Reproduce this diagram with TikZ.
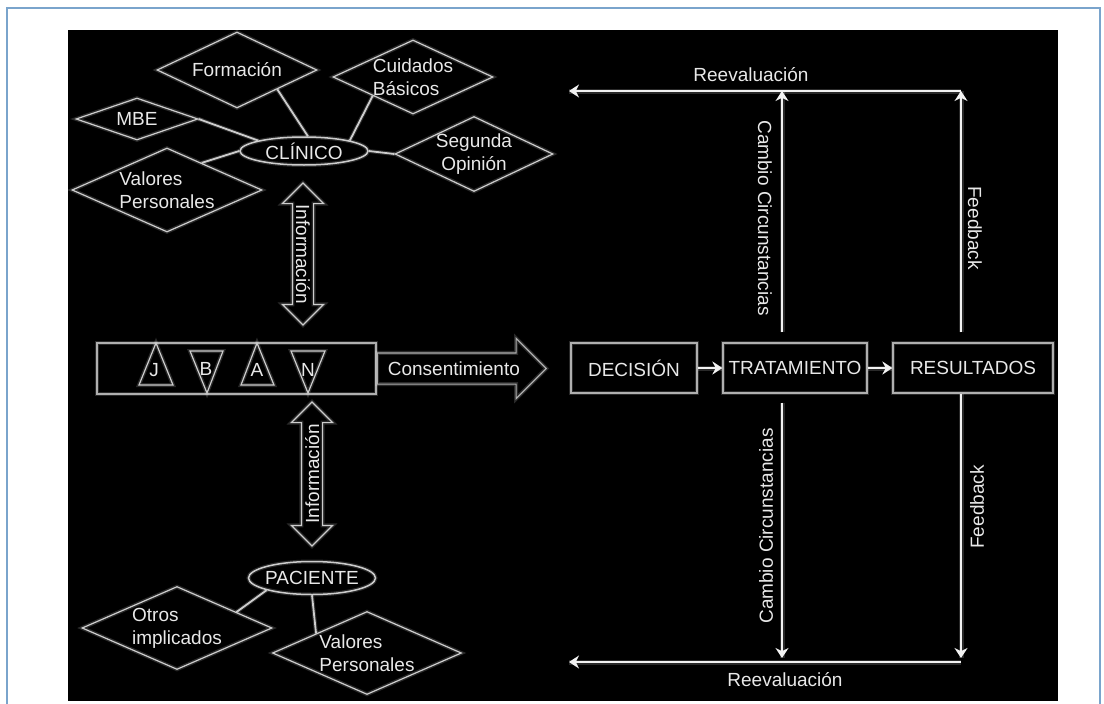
\documentclass[tikz,border=0pt]{standalone}
\usepackage{fontspec}
\setmainfont{Liberation Sans}
\usetikzlibrary{shapes.geometric,shapes.arrows,arrows.meta,calc}
\definecolor{framec}{RGB}{122,164,204}
\definecolor{txtc}{RGB}{232,232,232}
\definecolor{edgec}{RGB}{205,205,205}
\definecolor{boxc}{RGB}{175,175,175}
\definecolor{arrc}{RGB}{242,242,242}
\begin{document}
\begin{tikzpicture}[x=1pt,y=-1pt,
  base/.style={font=\fontsize{19}{23}\selectfont, text=txtc},
  halo/.style={preaction={draw=white, draw opacity=0.16, line width=4pt}},
  dia/.style={base, halo, shape=diamond, draw=edgec, line width=1.2pt, inner sep=-2pt, align=left},
  ell/.style={base, halo, shape=ellipse, draw=edgec, line width=1.5pt, inner sep=-3pt},
  stage/.style={base, halo, rectangle, draw=boxc, line width=1.2pt, minimum height=50pt, inner sep=0pt},
  link/.style={halo, draw=edgec, line width=1.8pt},
  flow/.style={draw=arrc, line width=2.5pt, -{Stealth[length=10pt,width=13pt]},
    preaction={draw=white, draw opacity=0.16, line width=5pt, -}},
  infoarrow/.style={base, halo, double arrow, draw=edgec, line width=1.2pt,
    double arrow head extend=10pt, double arrow tip angle=90, double arrow head indent=0pt,
    text height=14pt, text depth=0pt, inner ysep=3pt, inner xsep=0pt},
  tri/.style={halo, draw=edgec, line width=1.2pt},
  vlabel/.style={base}
]
\useasboundingbox (0,0) rectangle (1104,704);
\fill[white] (0,0) rectangle (1104,704);
\draw[framec, line width=2pt] (7,708) -- (7,8) -- (1100,8) -- (1100,708);
\fill[black] (68,30) rectangle (1058,701);

% clinician and the factors around it
\node[ell, minimum width=128pt, minimum height=28pt] (cl) at (304,151) {CLÍNICO};
\node[dia, minimum width=160pt, minimum height=76pt, aspect=2.1] (form) at (237,70) {Formación};
\node[dia, minimum width=160pt, minimum height=74pt, aspect=2.16] (cuid) at (413,77) {Cuidados\\Básicos};
\node[dia, minimum width=122pt, minimum height=42pt, aspect=2.9] (mbe) at (137,119) {MBE};
\node[dia, minimum width=190pt, minimum height=84pt, aspect=2.26] (vp1) at (167,190) {Valores\\Personales};
\node[dia, minimum width=158pt, minimum height=75pt, aspect=2.1, align=center] (seg) at (474,154) {Segunda\\Opinión};

\draw[link] (form.south east) -- (cl.75);
\draw[link] (cuid.south west) -- (cl.north east);
\draw[link] (mbe.east) -- (cl.north west);
\draw[link] (vp1.38) -- (cl.west);
\draw[link] (cl.east) -- (seg.west);

% information exchange
\node[infoarrow, minimum height=142pt, rotate=-90] (infoT) at (303,254) {Información};
\node[infoarrow, minimum height=144pt, rotate=90] (infoB) at (312,474) {Información};

% principles bar
\node[halo, draw=boxc, line width=1.2pt, minimum width=279pt, minimum height=51pt, inner sep=0pt] (jban) at (236.5,368.5) {};
\node[base] (pj) at (154,370) {J};
\node[base] (pb) at (206,369) {B};
\node[base] (pa2) at (257,370) {A};
\node[base] (pn) at (308,370) {N};
\draw[tri] (139,385) -- (156,343) -- (173,385) -- cycle;
\draw[tri] (190,351) -- (223,351) -- (207,393) -- cycle;
\draw[tri] (241,385) -- (257,343) -- (274,385) -- cycle;
\draw[tri] (291,351) -- (325,351) -- (308,393) -- cycle;

\node[base, halo, single arrow, draw=boxc, line width=1.2pt, anchor=tail,
  single arrow head extend=14.5pt, single arrow tip angle=90, single arrow head indent=0pt,
  minimum height=169pt, text height=14pt, text depth=0pt, inner ysep=8pt, inner xsep=0pt]
  (cons) at (jban.east) {Consentimiento};

% patient and the factors around it
\node[ell, minimum width=127pt, minimum height=33pt] (pa) at (312,578) {PACIENTE};
\node[dia, minimum width=190pt, minimum height=83pt, aspect=2.29] (ot) at (177,628) {Otros\\implicados};
\node[dia, minimum width=189pt, minimum height=83pt, aspect=2.28] (vp2) at (367,653) {Valores\\Personales};
\draw[link] (pa.south west) -- (ot.15);
\draw[link] (pa.south) -- (vp2.159);

% care process
\node[stage, minimum width=126pt] (dec) at (634,368) {DECISIÓN};
\node[stage, minimum width=144pt] (tra) at (795,368) {TRATAMIENTO};
\node[stage, minimum width=160pt] (res) at (973,368) {RESULTADOS};
\draw[flow] (dec) -- (tra);
\draw[flow] (tra) -- (res);

\coordinate (ccT) at (782,91);
\coordinate (fbT) at (961,91);
\coordinate (reT) at (569,91);
\coordinate (ccB) at (782,662);
\coordinate (fbB) at (961,662);
\coordinate (reB) at (569,662);

\draw[flow] ([yshift=10pt]tra.north -| ccT) -- (ccT);
\draw[flow] ([yshift=10pt]res.north -| fbT) -- (fbT);
\draw[flow] (fbT) -- (reT);
\draw[flow] ([yshift=-9pt]tra.south -| ccB) -- ([yshift=4pt]ccB);
\draw[flow] (res.south -| fbB) -- ([yshift=4pt]fbB);
\draw[flow] (fbB) -- (reB);

\node[base] (lreT) at (751,75) {Reevaluación};
\node[base] (lreB) at (785,680) {Reevaluación};
\node[vlabel, rotate=-90] (lccT) at (765,218) {Cambio Circunstancias};
\node[vlabel, rotate=-90] (lfbT) at (975,228) {Feedback};
\node[vlabel, rotate=90] (lccB) at (766,526) {Cambio Circunstancias};
\node[vlabel, rotate=90] (lfbB) at (977,507) {Feedback};
\end{tikzpicture}
\end{document}
